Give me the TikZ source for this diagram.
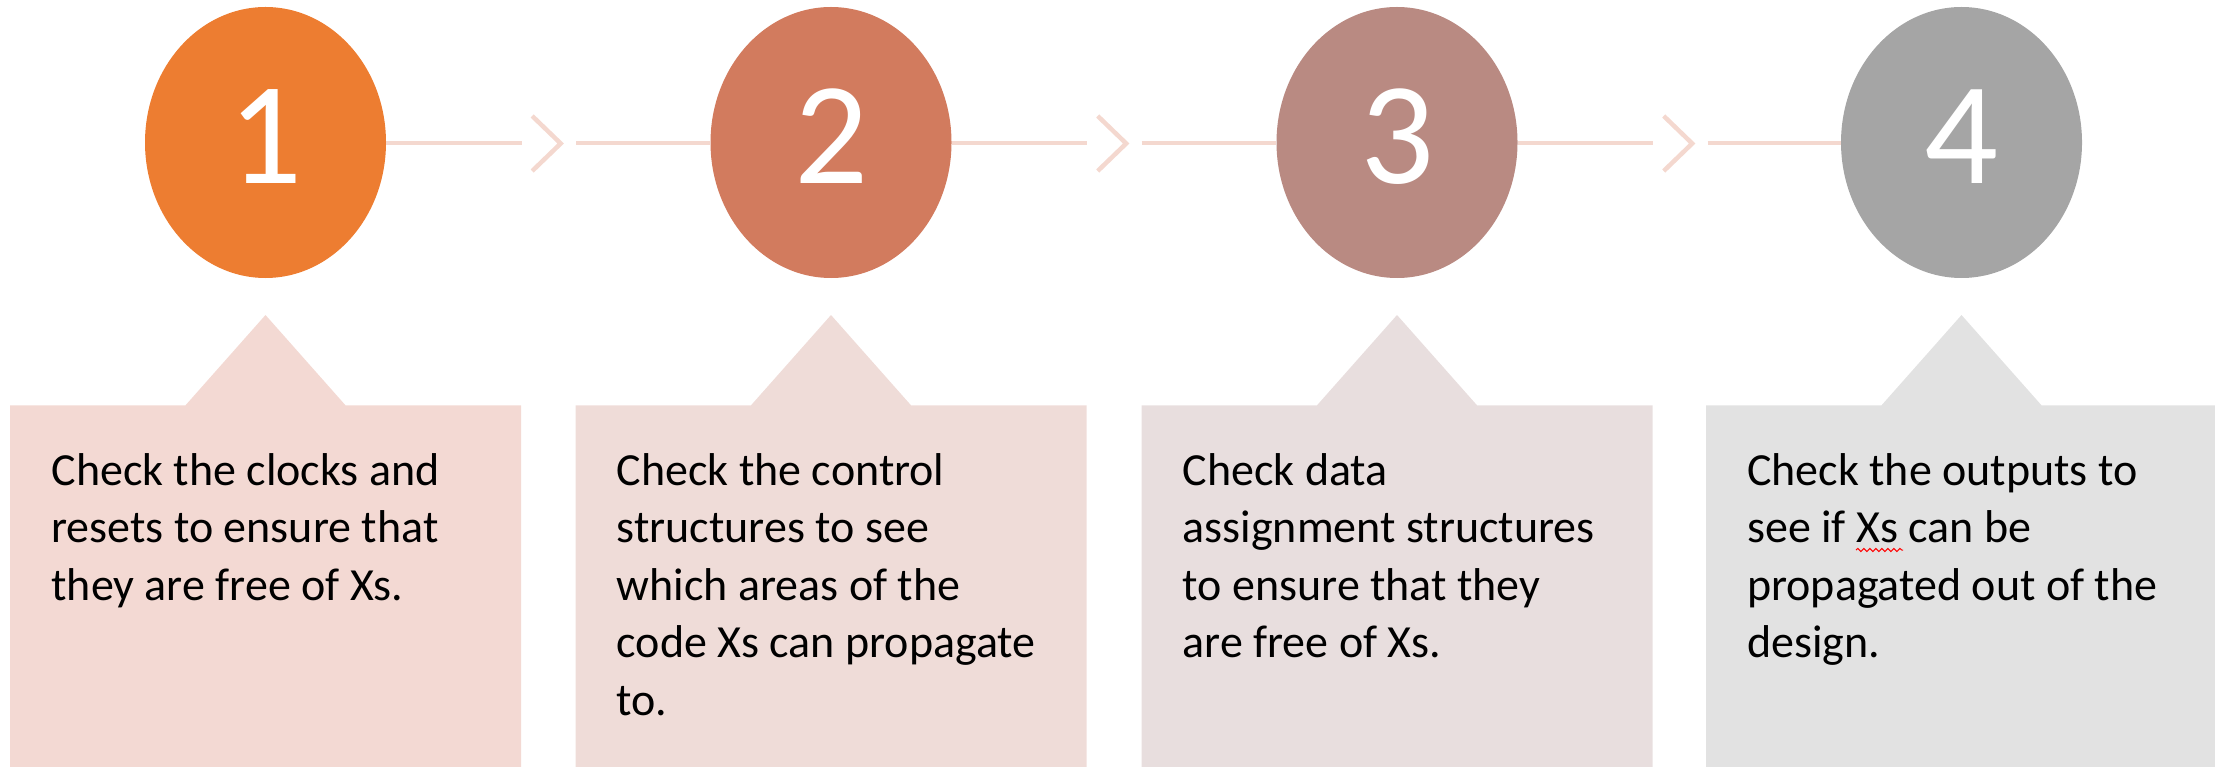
\documentclass[tikz,border=0pt]{standalone}
\usepackage{fontspec}
\setmainfont{Carlito}
\usetikzlibrary{decorations.pathmorphing,shapes.geometric}
\definecolor{cA}{HTML}{ED7D31}
\definecolor{cB}{HTML}{D27B5E}
\definecolor{cC}{HTML}{B98A82}
\definecolor{cD}{HTML}{A5A5A5}
\definecolor{bA}{HTML}{F3D9D3}
\definecolor{bB}{HTML}{EFDCD8}
\definecolor{bC}{HTML}{E8DEDE}
\definecolor{bD}{HTML}{E2E2E2}
\definecolor{lineC}{HTML}{F4D8CF}
\tikzset{
  num/.style={ellipse, minimum width=241pt, minimum height=271pt, inner sep=0pt,
    text=white, font=\fontsize{146}{160}\selectfont, text depth=12pt},
  conn/.style={draw=lineC, line width=4pt},
  chev/.style={draw=lineC, line width=4.5pt, line join=miter},
  desc/.style={anchor=north west, inner sep=0pt, align=left, text=black,
    font=\fontsize{46}{57.5}\selectfont},
}
\begin{document}
\begin{tikzpicture}[x=1pt,y=-1pt]
\useasboundingbox (0,0) rectangle (2215,767);
% boxes with pointers
\foreach \c/\col in {265.5/bA, 831/bB, 1397/bC, 1961.5/bD}{
  \fill[\col] (\c-255.5,405.3) -- (\c-80,405.3) -- (\c,315) -- (\c+80,405.3)
    -- (\c+255.5,405.3) -- (\c+255.5,767) -- (\c-255.5,767) -- cycle;
}
% connector coordinates
\coordinate (a1) at (521.7,143.5); \coordinate (b1) at (576,143.5);
\coordinate (a2) at (1087.2,143.5); \coordinate (b2) at (1141.5,143.5);
\coordinate (a3) at (1653.2,143.5); \coordinate (b3) at (1707.5,143.5);
% circles
\node[num, fill=cA] (n1) at (265.5,142.5) {1};
\node[num, fill=cB] (n2) at (831,142.5) {2};
\node[num, fill=cC] (n3) at (1397,142.5) {3};
\node[num, fill=cD] (n4) at (1961.5,142.5) {4};
% connectors
\foreach \i/\j in {1/2, 2/3, 3/4}{
  \draw[conn] (n\i.east |- a\i) -- (a\i);
  \draw[conn] (b\i) -- (n\j.west |- b\i);
  \draw[chev] ([xshift=10.5pt,yshift=27.5pt]a\i) -- ++(28.5,27.5) -- ++(-28.5,27.5);
}
% texts
\node[desc] (t1) at (51.3,444.75) {\strut Check the clocks and\\resets to ensure that\\they are free of Xs.};
\node[desc] (t2) at (616.5,444.75) {\strut Check the control\\structures to see\\which areas of the\\code Xs can propagate\\to.};
\node[desc] (t3) at (1182.5,444.75) {\strut Check data\\assignment structures\\to ensure that they\\are free of Xs.};
\node[desc] (t4) at (1747,444.75) {\strut Check the outputs to\\see if Xs can be\\propagated out of the\\design.};
\coordinate (s1) at (1856,550); \coordinate (s2) at (1903,550);
\draw[red, line width=1pt, decorate, decoration={snake, amplitude=1.6pt, segment length=6pt}] (s1) -- (s2);
\end{tikzpicture}
\end{document}
